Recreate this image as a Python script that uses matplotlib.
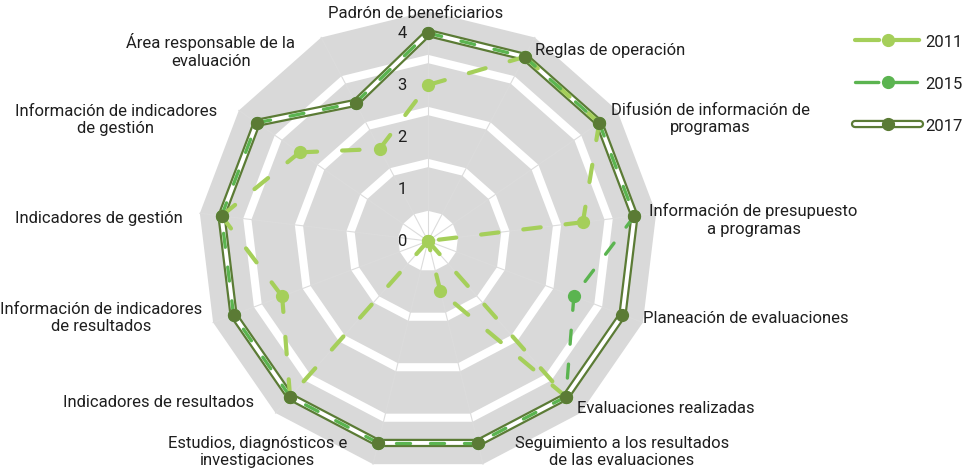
import numpy as np
import matplotlib
matplotlib.use("Agg")
import matplotlib.pyplot as plt
from matplotlib.lines import Line2D
from matplotlib.legend_handler import HandlerTuple

# ---------------- data ----------------
categories = [
    "Padrón de beneficiarios",
    "Reglas de operación",
    "Difusión de información de\nprogramas",
    "Información de presupuesto\na programas",
    "Planeación de evaluaciones",
    "Evaluaciones realizadas",
    "Seguimiento a los resultados\nde las evaluaciones",
    "Estudios, diagnósticos e\ninvestigaciones",
    "Indicadores de resultados",
    "Información de indicadores\nde resultados",
    "Indicadores de gestión",
    "Información de indicadores\nde gestión",
    "Área responsable de la\nevaluación",
]
values_2011 = [3, 4, 4, 3, 0, 4, 1, 0, 4, 3, 4, 3, 2]
values_2015 = [4, 4, 4, 4, 3, 4, 4, 4, 4, 4, 4, 4, 3]
values_2017 = [4, 4, 4, 4, 4, 4, 4, 4, 4, 4, 4, 4, 3]
series_names = ["2011", "2015", "2017"]
radial_ticks = [0, 1, 2, 3, 4]

# ---------------- style ----------------
FONT, FS = "Roboto", 12
plt.rcParams["font.family"] = [FONT, "DejaVu Sans"]

C11, C15, C17 = "#A5CF5A", "#5BB450", "#5B7B35"
GRAY = "#D9D9D9"
TXT = "#1f1f1f"
DASH = (0, (4.2, 6.0))

W, H = 977, 477
fig = plt.figure(figsize=(W / 100, H / 100), dpi=100)
cx, cy, R4 = 428, 477 - 242, 208      # centre and radius of level 4 (pixels)
RMAX = 4.5
rad = R4 * RMAX / 4
ax = fig.add_axes([(cx - rad) / W, (cy - rad) / H, 2 * rad / W, 2 * rad / H],
                  projection="polar")
ax.set_theta_zero_location("N")
ax.set_theta_direction(-1)
ax.set_ylim(0, RMAX)
ax.axis("off")

N = len(categories)
theta = np.arange(N) * 2 * np.pi / N
tc = np.append(theta, theta[0])

# background bands (gray ring around every level, white gaps between)
half = 0.42
z = 0.0
for k in sorted(radial_ticks[1:], reverse=True):
    ax.fill(tc, np.full(N + 1, k + half), color=GRAY, lw=0, zorder=z)
    ax.fill(tc, np.full(N + 1, k - half), color="white", lw=0, zorder=z + 0.01)
    z += 0.02
for t in theta:
    ax.plot([t, t], [0, radial_ticks[-1] + half], color="#dcdcdc", lw=0.8, zorder=0.5)

def closed(v):
    return np.append(v, v[0])

# 2017 double line
v17 = closed(values_2017)
ax.plot(tc, v17, color=C17, lw=6, zorder=3, solid_joinstyle="miter")
ax.plot(tc, v17, color="white", lw=2.8, zorder=3.1, solid_joinstyle="miter")

# dashed series, each segment restarting its dash pattern
for vals, col, lw, zz in [(values_2011, C11, 3.0, 3.2), (values_2015, C15, 2.4, 3.3)]:
    v = closed(vals)
    for i in range(N):
        ax.plot(tc[i:i + 2], v[i:i + 2], color=col, lw=lw, ls=DASH,
                dash_capstyle="round", zorder=zz)

ax.plot(theta, values_2011, "o", color=C11, ms=8.5, zorder=4)
ax.plot(theta, values_2015, "o", color=C15, ms=8.5, zorder=4.1)
ax.plot(theta, values_2017, "o", color=C17, ms=8.5, zorder=4.2)

# radial tick labels
for k in radial_ticks:
    ax.annotate(str(k), xy=(0, k), xytext=(-26, 0), textcoords="offset pixels",
                ha="center", va="center", fontsize=FS, color=TXT,
                annotation_clip=False)

# category labels
label_offsets = [(-12, 21, "center"), (10, 7, "left"), (12, 5, "left"),
                 (15, -3, "left"), (21, -3, "left"), (11, -11, "left"),
                 (37, -8, "left"), (-31, -8, "right"), (-36, -5, "right"),
                 (-31, -2, "right"), (-39, -2, "right"), (-40, 4, "right"),
                 (-36, 7, "right")]
for t, lab, (dx, dy, ha) in zip(theta, categories, label_offsets):
    ax.annotate(lab, xy=(t, radial_ticks[-1]), xytext=(dx, dy),
                textcoords="offset pixels", ha=ha, va="center",
                multialignment="center", fontsize=FS, color=TXT,
                annotation_clip=False)

# legend
h11 = Line2D([], [], color=C11, lw=3.0, ls=(0, (5.8, 3.8)), dash_capstyle="round",
             marker="o", ms=8.5)
h15 = Line2D([], [], color=C15, lw=2.4, ls=(0, (7.0, 4.6)), dash_capstyle="round",
             marker="o", ms=8.5)
h17 = (Line2D([], [], color=C17, lw=6, solid_capstyle="round"),
       Line2D([], [], color="white", lw=2.8, solid_capstyle="round"),
       Line2D([], [], color=C17, ls="none", marker="o", ms=8.5))
fig.legend([h11, h15, h17], series_names, loc="upper left",
           bbox_to_anchor=(855 / W, 1 - 35 / H), frameon=False,
           handlelength=3.9, handletextpad=0.3, labelspacing=1.62,
           borderpad=0, borderaxespad=0, fontsize=FS, labelcolor=TXT,
           handler_map={tuple: HandlerTuple(ndivide=1)})

fig.savefig("out.png", dpi=100)
